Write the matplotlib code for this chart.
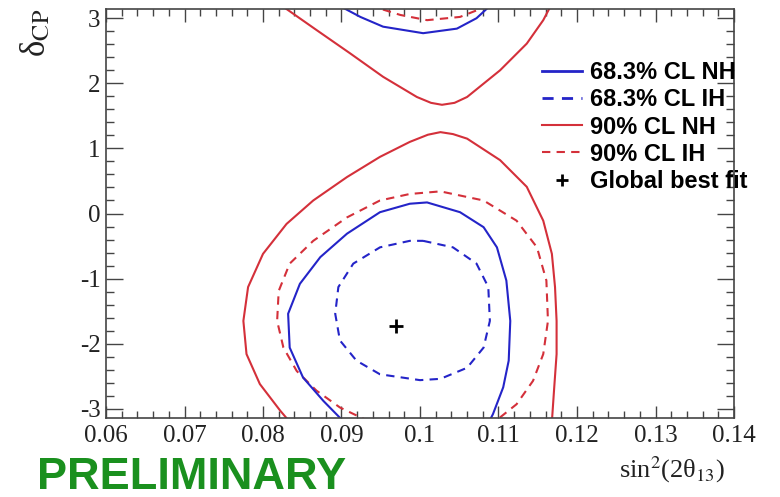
import matplotlib
matplotlib.use('Agg')
import matplotlib.pyplot as plt
from matplotlib.lines import Line2D
from matplotlib.ticker import MultipleLocator

# contour points (sin^2(2theta13), delta_CP)
# 90% CL NH, upper piece (wraps around delta = pi)
red_nh_up_x = [0.0823, 0.0868, 0.0911, 0.0953, 0.0996, 0.1014, 0.1028, 0.1044, 0.1060, 0.1102, 0.1136, 0.1157, 0.1167]
red_nh_up_y = [3.20, 2.82, 2.46, 2.10, 1.79, 1.70, 1.67, 1.70, 1.79, 2.20, 2.61, 2.97, 3.20]
# 90% CL NH, lower piece
red_nh_lo_x = [0.0834, 0.0822, 0.0796, 0.0779, 0.0775, 0.0781, 0.0800, 0.0830, 0.0864, 0.0907, 0.0949,
               0.0987, 0.1010, 0.1026, 0.1042, 0.1060, 0.1102, 0.1136, 0.1157, 0.1168, 0.1172, 0.1174,
               0.1174, 0.1171, 0.1168]
red_nh_lo_y = [-3.20, -3.03, -2.62, -2.16, -1.65, -1.13, -0.62, -0.16, 0.20, 0.56, 0.87,
               1.10, 1.21, 1.25, 1.22, 1.15, 0.82, 0.41, -0.11, -0.62, -1.13, -1.65,
               -2.16, -2.67, -3.20]
# 90% CL IH
red_ih_up_x = [0.0935, 0.0975, 0.1009, 0.1051, 0.1072, 0.1080]
red_ih_up_y = [3.20, 3.05, 2.97, 3.02, 3.12, 3.20]
red_ih_lo_x = [0.0936, 0.0898, 0.0868, 0.0843, 0.0826, 0.0818, 0.0820, 0.0834, 0.0864, 0.0907, 0.0949,
               0.0987, 0.1026, 0.1081, 0.1123, 0.1149, 0.1161, 0.1163, 0.1157, 0.1144, 0.1123, 0.1095]
red_ih_lo_y = [-3.20, -2.98, -2.72, -2.42, -2.06, -1.65, -1.19, -0.77, -0.42, -0.06, 0.20,
               0.30, 0.34, 0.20, -0.11, -0.52, -1.03, -1.65, -2.16, -2.57, -2.93, -3.20]
# 68.3% CL NH
blue_nh_up_x = [0.0896, 0.0924, 0.0953, 0.1004, 0.1047, 0.1072, 0.1090]
blue_nh_up_y = [3.20, 3.02, 2.87, 2.77, 2.84, 3.00, 3.20]
blue_nh_lo_x = [0.0903, 0.0877, 0.0851, 0.0834, 0.0832, 0.0847, 0.0873, 0.0907, 0.0949, 0.0987,
                0.1009, 0.1051, 0.1081, 0.1098, 0.1110, 0.1115, 0.1113, 0.1106, 0.1093, 0.1088]
blue_nh_lo_y = [-3.20, -2.88, -2.52, -2.06, -1.54, -1.08, -0.67, -0.31, 0.02, 0.15,
                0.17, 0.02, -0.21, -0.52, -1.03, -1.65, -2.26, -2.67, -3.08, -3.20]
# 68.3% CL IH (closed)
blue_ih_x = [0.1004, 0.1042, 0.1072, 0.1087, 0.1089, 0.1081, 0.1060, 0.1026, 0.1000, 0.0949,
             0.0919, 0.0898, 0.0892, 0.0896, 0.0915, 0.0949, 0.0987, 0.1004]
blue_ih_y = [-0.42, -0.52, -0.77, -1.13, -1.65, -2.06, -2.37, -2.54, -2.56, -2.47,
             -2.26, -1.95, -1.54, -1.13, -0.77, -0.52, -0.42, -0.42]

best_fit = (0.097, -1.73)

x_ticks = [0.06, 0.07, 0.08, 0.09, 0.10, 0.11, 0.12, 0.13, 0.14]
x_tick_labels = ['0.06', '0.07', '0.08', '0.09', '0.1', '0.11', '0.12', '0.13', '0.14']
y_ticks = [-3, -2, -1, 0, 1, 2, 3]

blue = '#2424c8'
red = '#d4303a'
dash = (0, (4, 3))

plt.rcParams['axes.unicode_minus'] = False
plt.rcParams['mathtext.fontset'] = 'stix'
plt.rcParams['lines.solid_joinstyle'] = 'round'

fig = plt.figure(figsize=(7.8, 4.97), dpi=100)
ax = fig.add_axes([106/780, 79/497, 628/780, 409/497])

ax.plot(red_nh_up_x, red_nh_up_y, color=red, lw=1.5)
ax.plot(red_nh_lo_x, red_nh_lo_y, color=red, lw=1.5)
ax.plot(red_ih_up_x, red_ih_up_y, color=red, lw=1.5, ls=dash)
ax.plot(red_ih_lo_x, red_ih_lo_y, color=red, lw=1.5, ls=dash)
ax.plot(blue_nh_up_x, blue_nh_up_y, color=blue, lw=1.5)
ax.plot(blue_nh_lo_x, blue_nh_lo_y, color=blue, lw=1.5)
ax.plot(blue_ih_x, blue_ih_y, color=blue, lw=1.5, ls=dash)
ax.plot(best_fit[0], best_fit[1], marker='+', color='black', ms=10, mew=2)

ax.set_xlim(0.06, 0.14)
ax.set_ylim(-3.1416, 3.1416)
ax.set_xticks(x_ticks)
ax.set_xticklabels(x_tick_labels)
ax.set_yticks(y_ticks)
ax.xaxis.set_minor_locator(MultipleLocator(0.002))
ax.yaxis.set_minor_locator(MultipleLocator(0.2))
ax.tick_params(which='both', direction='in', top=True, right=True, colors='#444444',
               labelcolor='#222222', labelfontfamily='Liberation Serif', labelsize=18)
ax.tick_params(axis='x', which='major', length=9, width=1, pad=5)
ax.tick_params(axis='x', which='minor', length=5, width=1)
ax.tick_params(axis='y', which='major', length=12, width=1, pad=4)
ax.tick_params(axis='y', which='minor', length=6, width=1)
for s in ax.spines.values():
    s.set_color('#444444')
    s.set_linewidth(1.2)

fig.text(725/780, 1 - 477/497, 'sin$^{2}$(2θ$_{13}$)', ha='right', va='baseline',
         fontsize=19, family='Liberation Serif', color='#222222')
fig.text(36/780, 1 - 9/497, r'δ$_{\rm CP}$', ha='center', va='top', rotation=90,
         fontsize=25, family='Liberation Serif', color='#222222')
fig.text(37/780, 1 - 489/497, 'PRELIMINARY', ha='left', va='baseline',
         fontsize=32.5, fontweight='bold', family='Liberation Sans', color='#1a901e')

handles = [
    Line2D([], [], color=blue, lw=2),
    Line2D([], [], color=blue, lw=2, ls=dash),
    Line2D([], [], color=red, lw=1.5),
    Line2D([], [], color=red, lw=1.5, ls=dash),
    Line2D([], [], color='black', marker='+', ls='none', ms=8, mew=2),
]
labels = ['68.3% CL NH', '68.3% CL IH', '90% CL NH', '90% CL IH', 'Global best fit']
ax.legend(handles, labels, loc='upper left', bbox_to_anchor=(542/780, 1 - 61/497),
          bbox_transform=fig.transFigure, frameon=False, borderpad=0, borderaxespad=0,
          handlelength=1.7, handletextpad=0.34, labelspacing=0.18,
          prop={'family': 'Liberation Sans', 'weight': 'bold', 'size': 17})

fig.savefig('out.png', dpi=100)
